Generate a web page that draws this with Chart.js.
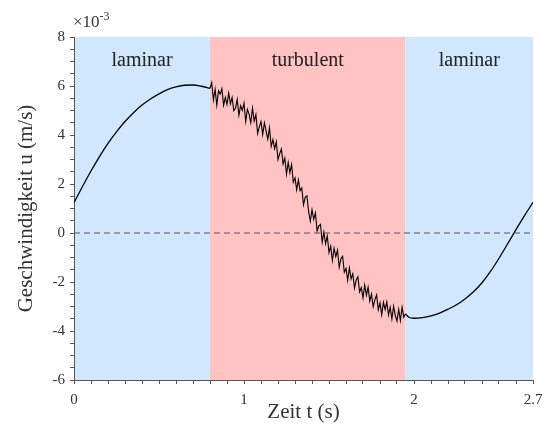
<!DOCTYPE html>
<html><head><meta charset="utf-8">
<script src="https://cdn.jsdelivr.net/npm/chart.js@4.4.0/dist/chart.umd.min.js"></script>
<style>html,body{margin:0;padding:0;background:#fff}canvas{display:block}</style>
</head><body>
<canvas id="c" width="555" height="428"></canvas>
<script>
// ---- data (velocity in units of 1e-3 m/s, time in s) ----
const laminar1T = [0,0.05,0.1,0.15,0.2,0.25,0.3,0.35,0.4,0.45,0.5,0.55,0.6,0.65,0.7,0.75,0.8];
const laminar1U = [1.24,1.9,2.53,3.12,3.66,4.13,4.55,4.91,5.22,5.47,5.68,5.85,5.96,6.03,6.04,5.99,5.9];

const turbT = [
  0.80,0.81,0.82,0.83,0.84,0.85,0.86,0.87,0.88,0.89,
  0.90,0.91,0.92,0.93,0.94,0.95,0.96,0.97,0.98,0.99,
  1.00,1.01,1.02,1.03,1.04,1.05,1.06,1.07,1.08,1.09,
  1.10,1.11,1.12,1.13,1.14,1.15,1.16,1.17,1.18,1.19,
  1.20,1.21,1.22,1.23,1.24,1.25,1.26,1.27,1.28,1.29,
  1.30,1.31,1.32,1.33,1.34,1.35,1.36,1.37,1.38,1.39,
  1.40,1.41,1.42,1.43,1.44,1.45,1.46,1.47,1.48,1.49,
  1.50,1.51,1.52,1.53,1.54,1.55,1.56,1.57,1.58,1.59,
  1.60,1.61,1.62,1.63,1.64,1.65,1.66,1.67,1.68,1.69,
  1.70,1.71,1.72,1.73,1.74,1.75,1.76,1.77,1.78,1.79,
  1.80,1.81,1.82,1.83,1.84,1.85,1.86,1.87,1.88,1.89,
  1.90,1.91,1.92,1.93,1.94,1.95];
const turbU = [
  5.9,6.14,5.43,5.87,5.21,5.8,5.67,5.89,5.21,5.53,
  5.25,5.71,5.27,5.53,4.99,5.1,5.45,4.8,5.2,5.0,
  5.3,4.55,5.05,4.85,4.5,5.1,4.57,4.84,4.06,4.33,
  4.55,4.02,4.49,4.16,3.83,4.3,3.53,3.81,3.44,3.72,
  3.0,3.24,3.43,2.82,3.06,2.4,2.88,2.46,2.79,2.07,
  2.25,1.76,2.17,1.73,1.84,1.15,1.46,1.52,0.88,0.49,
  0.95,0.56,0.82,0.08,0.29,0.35,-0.38,0.04,-0.44,-0.12,
  -0.8,-0.54,-1.13,-0.62,-0.96,-0.7,-1.4,-1.05,-0.95,-1.6,
  -1.45,-1.94,-1.43,-1.87,-1.66,-2.25,-1.92,-1.79,-2.41,-2.23,
  -2.65,-2.12,-2.54,-2.21,-2.78,-2.5,-3.01,-2.72,-2.53,-3.14,
  -2.85,-3.34,-2.83,-3.12,-2.81,-3.35,-3.03,-3.51,-2.99,-3.37,
  -3.6,-3.11,-3.57,-3.03,-3.44,-3.3];

const laminar2T = [1.95,1.97,2.0,2.05,2.1,2.15,2.2,2.25,2.3,2.35,2.4,2.45,2.5,2.55,2.6,2.65,2.7];
const laminar2U = [-3.3,-3.44,-3.48,-3.45,-3.38,-3.27,-3.11,-2.93,-2.69,-2.4,-2.03,-1.57,-1.03,-0.45,0.14,0.71,1.25];

const zeroT = [0, 2.7];
const zeroU = [0, 0];

const regionFrom = [0, 0.8, 1.95];
const regionTo = [0.8, 1.95, 2.7];
const regionNames = ['laminar', 'turbulent', 'laminar'];

const xMajorTicks = [0, 1, 2, 2.7];
const xMinorStep = 0.1;
const yMajorTicks = [-6, -4, -2, 0, 2, 4, 6, 8];
const yMinorStep = 0.5;
const yExponentLabel = ['\u00d710', '-3'];

// ---- styles ----
const SERIF = "'Liberation Serif', 'Times New Roman', serif";
const regionColors = ['#d1e7fd', '#ffc3c3', '#d1e7fd'];
const axisColor = '#555';
const textColor = '#333';

const pts = (T, U) => T.map((t, i) => ({x: t, y: U[i]}));
const near = (a, b) => Math.abs(a - b) < 1e-6;

const regionsPlugin = {
  id: 'regions',
  beforeDraw(chart) {
    const {ctx, chartArea: a, scales: {x}} = chart;
    ctx.save();
    regionFrom.forEach((f, i) => {
      const x0 = x.getPixelForValue(f), x1 = x.getPixelForValue(regionTo[i]);
      ctx.fillStyle = regionColors[i];
      ctx.fillRect(x0, a.top, x1 - x0, a.bottom - a.top);
    });
    ctx.restore();
  },
  afterDraw(chart) {
    const {ctx, chartArea: a, scales: {x}} = chart;
    ctx.save();
    ctx.fillStyle = '#222';
    ctx.font = '20px ' + SERIF;
    ctx.textAlign = 'center';
    ctx.textBaseline = 'alphabetic';
    regionFrom.forEach((f, i) => {
      const cx = (x.getPixelForValue(f) + x.getPixelForValue(regionTo[i])) / 2;
      ctx.fillText(regionNames[i], cx, a.top + 29);
    });
    // exponent label
    ctx.fillStyle = textColor;
    ctx.textAlign = 'left';
    ctx.font = '17px ' + SERIF;
    const x0 = a.left - 1;
    ctx.fillText(yExponentLabel[0], x0, a.top - 10);
    const w = ctx.measureText(yExponentLabel[0]).width;
    ctx.font = '12px ' + SERIF;
    ctx.fillText(yExponentLabel[1], x0 + w, a.top - 17);
    ctx.restore();
  }
};

new Chart(document.getElementById('c'), {
  type: 'line',
  data: {
    datasets: [
      {data: pts(zeroT, zeroU), borderColor: '#555', borderWidth: 1, borderDash: [6, 4], pointRadius: 0, tension: 0},
      {data: pts(laminar1T, laminar1U), borderColor: '#000', borderWidth: 1.3, pointRadius: 0, cubicInterpolationMode: 'monotone'},
      {data: pts(turbT, turbU), borderColor: '#000', borderWidth: 1.1, pointRadius: 0, tension: 0},
      {data: pts(laminar2T, laminar2U), borderColor: '#000', borderWidth: 1.3, pointRadius: 0, cubicInterpolationMode: 'monotone'}
    ]
  },
  options: {
    responsive: false,
    animation: false,
    devicePixelRatio: 1,
    layout: {padding: {top: 37, right: 22, left: 0, bottom: 0}},
    plugins: {legend: {display: false}, tooltip: {enabled: false}},
    scales: {
      x: {
        type: 'linear', min: 0, max: 2.7,
        afterBuildTicks(s) {
          const t = [];
          for (let i = 0; i <= Math.round(2.7 / xMinorStep); i++) t.push({value: +(i * xMinorStep).toFixed(2)});
          s.ticks = t;
        },
        afterFit(s) { s.height = 48; },
        ticks: {
          autoSkip: false, maxRotation: 0, padding: 7, color: textColor,
          font: {family: SERIF, size: 15},
          callback: v => xMajorTicks.some(m => near(m, v)) ? String(v) : ''
        },
        grid: {drawOnChartArea: false, drawTicks: true, tickLength: 4, color: axisColor},
        border: {display: true, color: axisColor, width: 1},
        title: {display: true, text: 'Zeit t (s)', color: textColor, font: {family: SERIF, size: 21}, padding: {top: 0, bottom: 3}}
      },
      y: {
        type: 'linear', min: -6, max: 8,
        afterFit(s) { s.width = 74; },
        ticks: {
          stepSize: yMinorStep, autoSkip: false, padding: 5, color: textColor,
          font: {family: SERIF, size: 15},
          callback: v => yMajorTicks.some(m => near(m, v)) ? String(Math.round(v)) : ''
        },
        grid: {drawOnChartArea: false, drawTicks: true, tickLength: 4, color: axisColor},
        border: {display: true, color: axisColor, width: 1},
        title: {display: true, text: 'Geschwindigkeit u (m/s)', color: textColor, font: {family: SERIF, size: 21}, padding: {top: 14, bottom: 0}}
      }
    }
  },
  plugins: [regionsPlugin]
});
</script>
</body></html>
